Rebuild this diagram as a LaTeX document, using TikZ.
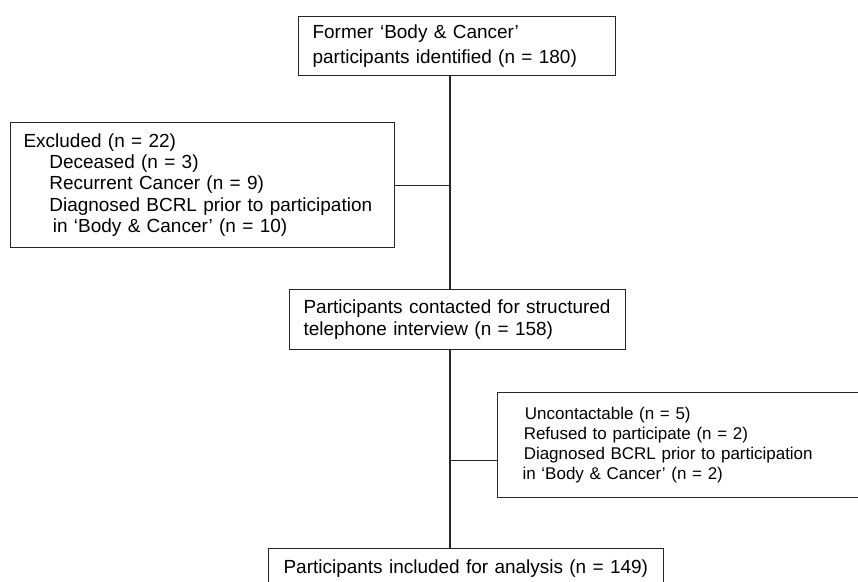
\documentclass[tikz,border=0pt]{standalone}
\usepackage{fontspec}
\setmainfont{Liberation Sans}
\usetikzlibrary{positioning}

\begin{document}
\begin{tikzpicture}[x=0.03cm,y=-0.03cm,
 box/.style={draw=black!85,line width=1pt,align=left,anchor=north west,
  inner ysep=0pt,font=\fontsize{16.2pt}{19.6pt}\selectfont}]
\useasboundingbox (0,0) rectangle (858,581);
\clip (0,0) rectangle (858,581);
\coordinate (spine) at (450,0);
\node[box,text width=8.67cm,inner xsep=0.42cm,minimum height=1.77cm,
 font=\fontsize{16.2pt}{21.3pt}\selectfont] (former) at (298,16)
 {Former ‘Body \& Cancer’\\participants identified (n = 180)};
\node[box,text width=10.74cm,inner xsep=0.39cm,minimum height=3.75cm,
 font=\fontsize{16.2pt}{18.2pt}\selectfont] (excluded) at (10,122)
 {Excluded (n = 22)\\
 \hspace*{22pt}Deceased (n = 3)\\
 \hspace*{22pt}Recurrent Cancer (n = 9)\\
 \hspace*{22pt}Diagnosed BCRL prior to participation\\
 \hspace*{25pt}in ‘Body \& Cancer’ (n = 10)};
\node[box,text width=9.24cm,inner xsep=0.42cm,minimum height=1.8cm] (contacted) at (289,289)
 {Participants contacted for structured\\telephone interview (n = 158)};
\node[box,text width=9.9cm,inner xsep=0.75cm,minimum height=3.15cm,
 font=\fontsize{14.5pt}{17.1pt}\selectfont] (dropped) at (497,392)
 {\hspace*{2pt}Uncontactable (n = 5)\\
 \hspace*{1pt}Refused to participate (n = 2)\\
 \hspace*{1pt}Diagnosed BCRL prior to participation\\
 in ‘Body \& Cancer’ (n = 2)};
\node[box,text width=10.95cm,inner xsep=0.45cm,minimum height=1.2cm] (included) at (268,548)
 {Participants included for analysis (n = 149)};
\draw[line width=1pt,black!85] (former.south -| spine)--(contacted.north -| spine);
\draw[line width=1pt,black!85] (excluded.east)--(excluded.east -| spine);
\draw[line width=1pt,black!85] (contacted.south -| spine)--(included.north -| spine);
\draw[line width=1pt,black!85] ([yshift=-0.465cm]dropped.west)--([yshift=-0.465cm]dropped.west -| spine);
\end{tikzpicture}
\end{document}
